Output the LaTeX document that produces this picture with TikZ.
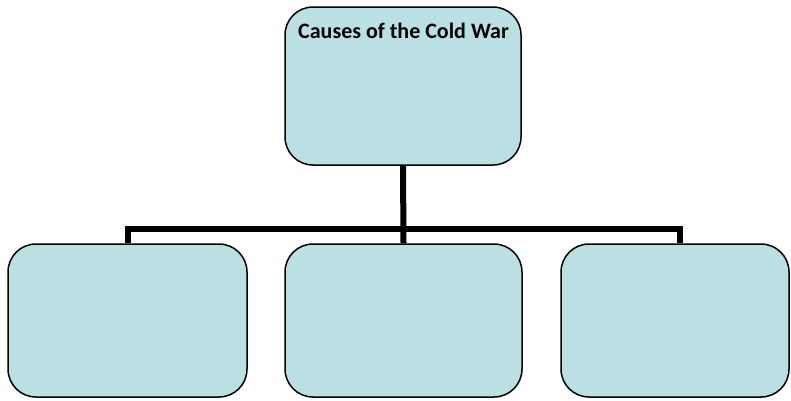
\documentclass[tikz,border=0pt]{standalone}
\usepackage{fontspec}
\setmainfont{Carlito}
\definecolor{boxfill}{RGB}{186,224,227}
\begin{document}
\begin{tikzpicture}[x=1pt,y=-1pt,
  cbox/.style={draw=black,line width=1.5pt,fill=boxfill,rounded corners=28pt,inner sep=0pt},
  conn/.style={draw=black,line width=6pt,line join=miter}]
\useasboundingbox (0,0) rectangle (791,400);
\node[cbox,minimum width=236pt,minimum height=158pt] (top) at (403,86) {};
\node[anchor=base,inner sep=0pt,font=\fontsize{22}{26}\selectfont\bfseries] (title) at (403.5,38) {Causes of the Cold War};
\node[cbox,minimum width=239pt,minimum height=153pt] (left) at (127.5,320.5) {};
\node[cbox,minimum width=237pt,minimum height=153pt] (mid) at (403.5,320.5) {};
\node[cbox,minimum width=228pt,minimum height=153pt] (right) at (675,320.5) {};
\coordinate (hub) at (403,228.5);
\coordinate (rtop) at ([xshift=5pt]right.north);
\draw[conn] (top.south) -- (mid.north);
\draw[conn] ([xshift=0.5pt]left.north) -- ([xshift=0.5pt]left.north |- hub) -- (rtop |- hub) -- (rtop);
\end{tikzpicture}
\end{document}
